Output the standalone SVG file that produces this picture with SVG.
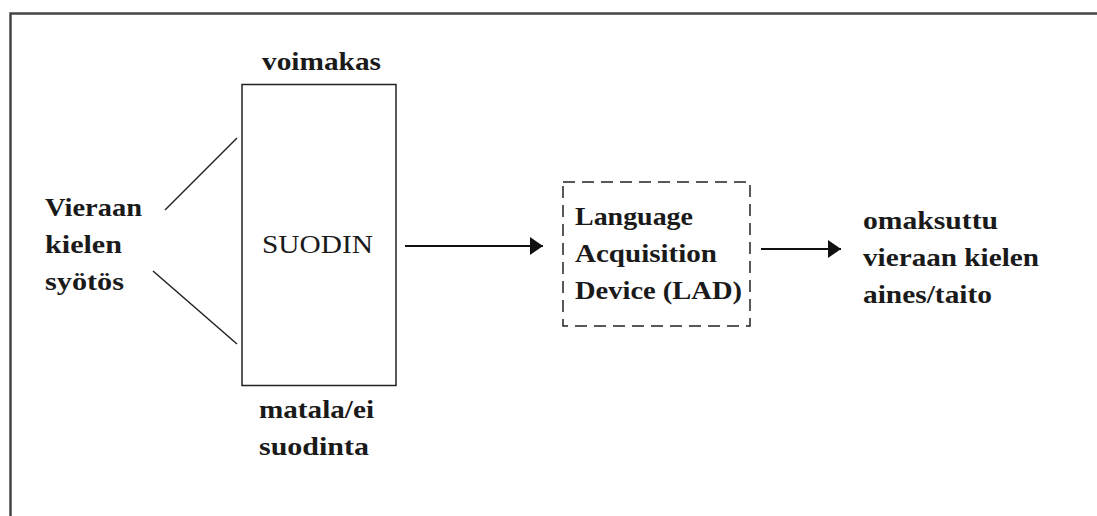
<svg xmlns="http://www.w3.org/2000/svg" width="1097" height="516" viewBox="0 0 1097 516">
<defs>
<style>
text{font-family:"Liberation Serif","Times New Roman",serif;font-weight:bold;font-size:26px;fill:#1a1a1a}
.ln{stroke:#222;stroke-width:1.5;fill:none}
.ar{stroke:#111;stroke-width:2;fill:none}
</style>
<marker id="ah" viewBox="0 0 13 18" refX="13" refY="9" markerWidth="13" markerHeight="18" markerUnits="userSpaceOnUse" orient="auto">
<path d="M0,0 L13,9 L0,18 z" fill="#111"/>
</marker>
</defs>
<rect width="1097" height="516" fill="#fff"/>
<g id="frame">
<path d="M10.5,516 V13.5 H1097" stroke="#444" stroke-width="2.5" fill="none"/>
</g>
<g id="input">
<text x="45" y="216" textLength="97" lengthAdjust="spacingAndGlyphs">Vieraan</text>
<text x="45" y="253" textLength="77" lengthAdjust="spacingAndGlyphs">kielen</text>
<text x="45" y="290" textLength="79" lengthAdjust="spacingAndGlyphs">syötös</text>
</g>
<g id="filter">
<rect x="242" y="84.5" width="154" height="301" class="ln"/>
<text x="262" y="253" textLength="111" lengthAdjust="spacingAndGlyphs" style="font-weight:normal">SUODIN</text>
<text x="262" y="70" textLength="119" lengthAdjust="spacingAndGlyphs">voimakas</text>
<text x="259" y="418" textLength="115" lengthAdjust="spacingAndGlyphs">matala/ei</text>
<text x="259" y="455" textLength="110" lengthAdjust="spacingAndGlyphs">suodinta</text>
</g>
<g id="lad">
<rect x="563" y="182" width="187" height="144" class="ln" stroke-dasharray="12 7"/>
<text x="575" y="225" textLength="118" lengthAdjust="spacingAndGlyphs">Language</text>
<text x="575" y="262" textLength="142" lengthAdjust="spacingAndGlyphs">Acquisition</text>
<text x="575" y="299" textLength="167" lengthAdjust="spacingAndGlyphs">Device (LAD)</text>
</g>
<g id="output">
<text x="863" y="229" textLength="135" lengthAdjust="spacingAndGlyphs">omaksuttu</text>
<text x="863" y="266" textLength="176" lengthAdjust="spacingAndGlyphs">vieraan kielen</text>
<text x="863" y="303" textLength="129" lengthAdjust="spacingAndGlyphs">aines/taito</text>
</g>
<g id="connectors">
<line x1="165" y1="210" x2="237" y2="138" class="ln"/>
<line x1="153" y1="271" x2="237" y2="344" class="ln"/>
<line x1="405" y1="246" x2="543" y2="246" class="ar" marker-end="url(#ah)"/>
<line x1="761" y1="249" x2="841" y2="249" class="ar" marker-end="url(#ah)"/>
</g>
</svg>
